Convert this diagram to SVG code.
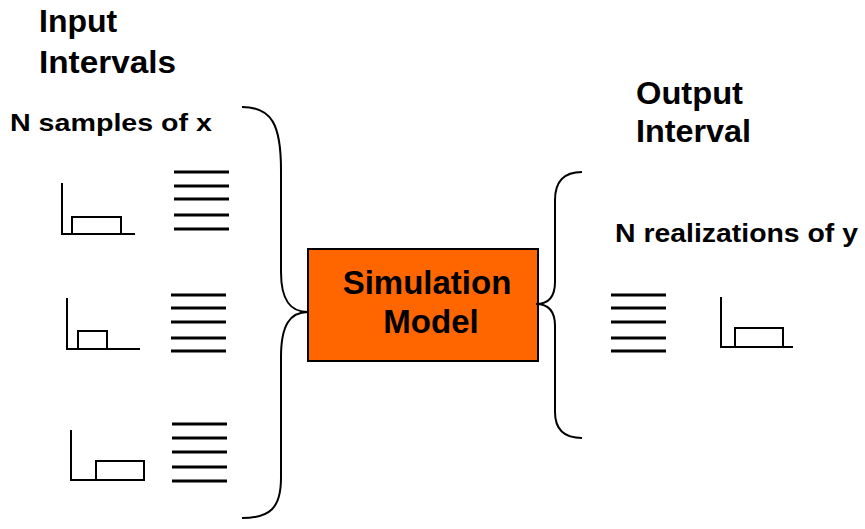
<svg xmlns="http://www.w3.org/2000/svg" width="865" height="529" viewBox="0 0 865 529">
<style>
.t{font-family:"Liberation Sans",Arial,sans-serif;font-weight:bold;fill:#000}
.ax{fill:none;stroke:#000;stroke-width:2}
.ls{stroke:#000;stroke-width:3}
.br{fill:none;stroke:#000;stroke-width:2}
</style>
<rect width="865" height="529" fill="#fff"/>
<g id="labels">
<text class="t" x="39" y="32" font-size="32">Input</text>
<text class="t" x="39" y="73" font-size="32" textLength="137" lengthAdjust="spacingAndGlyphs">Intervals</text>
<text class="t" x="10" y="131" font-size="24" textLength="202" lengthAdjust="spacingAndGlyphs">N samples of x</text>
<text class="t" x="636" y="104" font-size="32" textLength="107" lengthAdjust="spacingAndGlyphs">Output</text>
<text class="t" x="636" y="142" font-size="32" textLength="115" lengthAdjust="spacingAndGlyphs">Interval</text>
<text class="t" x="615" y="242" font-size="25" textLength="243" lengthAdjust="spacingAndGlyphs">N realizations of y</text>
</g>
<g id="input1">
<path class="ax" d="M62,183 V234 H135"/>
<rect class="ax" x="72" y="217" width="49" height="17"/>
<path class="ls" d="M174,172H229M174,186H229M174,199H229M174,215H229M174,229H229"/>
</g>
<g id="input2">
<path class="ax" d="M67,298 V349 H140"/>
<rect class="ax" x="78" y="331" width="29" height="18"/>
<path class="ls" d="M171,295H226M171,308H226M171,322H226M171,338H226M171,351H226"/>
</g>
<g id="input3">
<path class="ax" d="M71,430 V480 H144"/>
<rect class="ax" x="96" y="461" width="48" height="19"/>
<path class="ls" d="M172,424H227M172,438H227M172,452H227M172,467H227M172,481H227"/>
</g>
<g id="model">
<rect x="308" y="249" width="230" height="112" fill="#FF6600" stroke="#000" stroke-width="2"/>
<text class="t" x="427" y="294" font-size="33" text-anchor="middle">Simulation</text>
<text class="t" x="431" y="333" font-size="33" text-anchor="middle">Model</text>
</g>
<g id="output">
<path class="ls" d="M611,295H666M611,308H666M611,322H666M611,338H666M611,351H666"/>
<path class="ax" d="M721,297 V347 H793"/>
<rect class="ax" x="735" y="328" width="48" height="19"/>
</g>
<g id="connectors">
<path class="br" d="M242,107 C272,107 281,125 281,170 L281,272 C281,300 290,312 308,312 C290,312 281,325 281,357 L281,478 C281,508 270,518 242,518"/>
<path class="br" d="M582,172 C563,172 555,182 555,200 L555,282 C555,297 548,304 536,304 C548,304 555,311 555,326 L555,412 C555,428 563,438 582,438"/>
</g>
</svg>
